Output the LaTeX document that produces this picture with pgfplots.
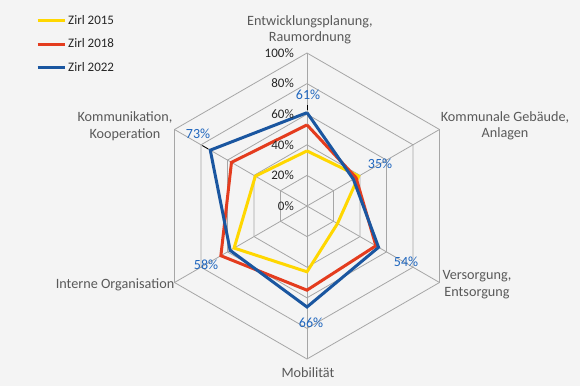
\documentclass[border=0pt]{standalone}
\usepackage{fontspec}
\setmainfont{Carlito}
\usepackage{pgfplots}
\pgfplotsset{compat=1.18}
\definecolor{bgc}{HTML}{F4F4F4}
\definecolor{gridc}{HTML}{A6A6A6}
\definecolor{c15}{HTML}{FFD700}
\definecolor{c18}{HTML}{E43C1E}
\definecolor{c22}{HTML}{1A56A0}
\definecolor{lab}{HTML}{1F66BE}
\definecolor{cat}{HTML}{595959}
\definecolor{tk}{HTML}{262626}
\begin{document}
\begin{tikzpicture}
\fill[bgc] (0,0) rectangle (580pt,386pt);
\begin{axis}[at={(307pt,180pt)}, anchor=center, x=1.53pt, y=1.53pt,
  xmin=-100, xmax=100, ymin=-100, ymax=100, hide axis, clip=false,
  legend style={at={(axis description cs:-0.3856,1.13)}, anchor=north west, draw=none, fill=none,
    inner sep=0pt, row sep=9pt, font=\fontsize{13}{15}\selectfont\color{tk}},
  legend cell align=left,
  legend image code/.code={\draw[#1] (0pt,0pt) -- (27pt,0pt);},
  every axis plot/.append style={line join=miter}]
% grid hexagons
\pgfplotsinvokeforeach{20,40,60,80,100}{
  \addplot[gridc, line width=0.8pt, data cs=polar, forget plot] coordinates {(90,#1)(30,#1)(-30,#1)(-90,#1)(-150,#1)(150,#1)(90,#1)};
}
\pgfplotsinvokeforeach{90,30,-30,-90,-150,150}{
  \addplot[gridc, line width=0.8pt, data cs=polar, forget plot] coordinates {(#1,0)(#1,100)};
}
% series
\addplot[c15, line width=3pt, data cs=polar] coordinates {(90,36)(30,39)(-30,23)(-90,43)(-150,55)(150,39)(90,36)};
\addlegendentry{Zirl 2015}
\addplot[c18, line width=3pt, data cs=polar] coordinates {(90,53)(30,37)(-30,52)(-90,55)(-150,65)(150,57)(90,53)};
\addlegendentry{Zirl 2018}
\addplot[c22, line width=3pt, data cs=polar] coordinates {(90,61)(30,35)(-30,54)(-90,66)(-150,58)(150,73)(90,61)};
\addlegendentry{Zirl 2022}
% leader lines
\addplot[black, line width=0.8pt, data cs=polar, forget plot] coordinates {(90,62.5)(90,66)};
\addplot[black, line width=0.8pt, data cs=polar, forget plot] coordinates {(150,74.5)(150,79)};
% radial tick labels
\pgfplotsinvokeforeach{0,20,40,60,80,100}{
  \node[anchor=east, inner sep=0pt, text=tk, font=\fontsize{13}{15}\selectfont] at (axis cs:-8.5,#1) {#1\%};
}
\end{axis}
% data labels
\begin{scope}[every node/.style={text=lab, font=\fontsize{14}{15}\selectfont, inner sep=0pt}]
\node at (308pt,291pt) {61\%};
\node at (380pt,222pt) {35\%};
\node at (406pt,124pt) {54\%};
\node at (311pt,63pt) {66\%};
\node at (206pt,121pt) {58\%};
\node at (198pt,252pt) {73\%};
\end{scope}
% category labels
\begin{scope}[every node/.style={text=cat, font=\fontsize{14.2}{16.5}\selectfont, inner sep=0pt, align=center}]
\node at (310pt,356pt) {Entwicklungsplanung,\\Raumordnung};
\node at (505pt,260pt) {Kommunale Gebäude,\\Anlagen};
\node at (477pt,101.5pt) {Versorgung,\\Entsorgung};
\node at (308pt,13pt) {Mobilität};
\node at (115pt,101pt) {Interne Organisation};
\node at (125pt,260pt) {Kommunikation,\\Kooperation};
\end{scope}
\end{tikzpicture}
\end{document}
